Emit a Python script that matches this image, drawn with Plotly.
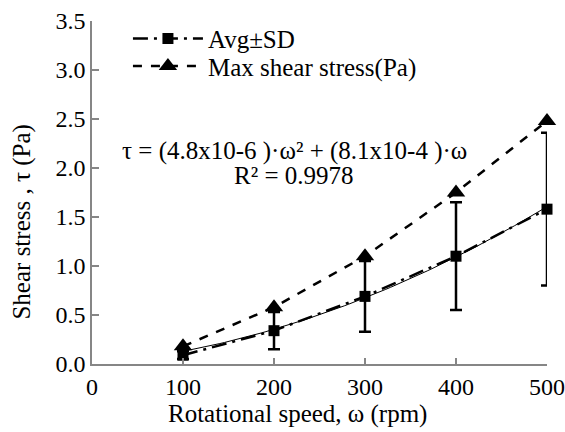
import numpy as np
import plotly.graph_objects as go

speed = [100, 200, 300, 400, 500]
avg_stress = [0.09, 0.34, 0.69, 1.10, 1.58]
avg_sd = [0.04, 0.19, 0.36, 0.55, 0.78]
max_stress = [0.18, 0.58, 1.10, 1.75, 2.48]
fit_a = 4.8e-6
fit_b = 8.1e-4
eq_text = "τ = (4.8x10-6 )·ω² + (8.1x10-4 )·ω"
r2_text = "R² = 0.9978"

FONT = "Liberation Serif"
AX = "#868686"
FS_TICK = 24
FS = 25

fit_x = np.linspace(speed[0], speed[-1], 80)
fit_y = fit_a * fit_x ** 2 + fit_b * fit_x

fig = go.Figure()
fig.add_trace(go.Scatter(x=fit_x, y=fit_y, mode="lines", showlegend=False,
                         line=dict(color="black", width=1), hoverinfo="skip"))
fig.add_trace(go.Scatter(
    x=speed, y=avg_stress, name="Avg±SD", mode="lines+markers",
    line=dict(color="black", width=2.5, dash="longdashdot"),
    marker=dict(symbol="square", size=11, color="black"),
    error_y=dict(type="data", array=avg_sd, visible=True, color="black",
                 thickness=2.5, width=6),
    cliponaxis=False, legend="legend"))
fig.add_trace(go.Scatter(
    x=speed, y=max_stress, name="Max shear stress(Pa)", mode="lines+markers",
    line=dict(color="black", width=2.5, dash="dash"),
    marker=dict(symbol="triangle-up", size=16, color="black"),
    cliponaxis=False, legend="legend2"))

leg_common = dict(x=0.079, xanchor="left", yanchor="middle",
                  bgcolor="rgba(0,0,0,0)", font=dict(size=FS, family=FONT),
                  itemwidth=70)

fig.update_layout(
    width=565, height=432,
    margin=dict(l=92, r=18, t=21, b=68, autoexpand=False),
    paper_bgcolor="white", plot_bgcolor="white",
    font=dict(family=FONT, size=FS, color="black"),
    showlegend=True,
    legend=dict(y=0.948, **leg_common),
    legend2=dict(y=0.868, **leg_common),
    xaxis=dict(range=[0, 500], dtick=100, tick0=0, showline=True,
               linecolor=AX, linewidth=1.5, ticks="inside", ticklen=6,
               tickcolor=AX, tickwidth=1.5, showgrid=False, zeroline=False,
               automargin=False, tickfont=dict(size=FS_TICK, family=FONT)),
    yaxis=dict(range=[0, 3.5], dtick=0.5, tick0=0, tickformat=".1f",
               showline=True, linecolor=AX, linewidth=1.5, ticks="inside",
               ticklen=7, tickcolor=AX, tickwidth=1.5, showgrid=False,
               zeroline=False, automargin=False,
               tickfont=dict(size=FS_TICK, family=FONT)),
    annotations=[
        dict(text="Rotational speed, ω (rpm)", x=0.4527, y=-0.147,
             xref="paper", yref="paper", xanchor="center", yanchor="middle",
             showarrow=False, font=dict(size=FS, family=FONT)),
        dict(text="Shear stress , τ (Pa)", x=-0.156, y=0.4125,
             xref="paper", yref="paper", xanchor="center", yanchor="middle",
             showarrow=False, textangle=-90, font=dict(size=FS, family=FONT)),
        dict(text=eq_text, x=0.445, y=0.622, xref="paper", yref="paper",
             xanchor="center", yanchor="middle",
             showarrow=False, font=dict(size=FS, family=FONT)),
        dict(text=r2_text, x=0.445, y=0.549, xref="paper", yref="paper",
             xanchor="center", yanchor="middle",
             showarrow=False, font=dict(size=FS, family=FONT)),
    ],
)

fig.write_html("out.html")
